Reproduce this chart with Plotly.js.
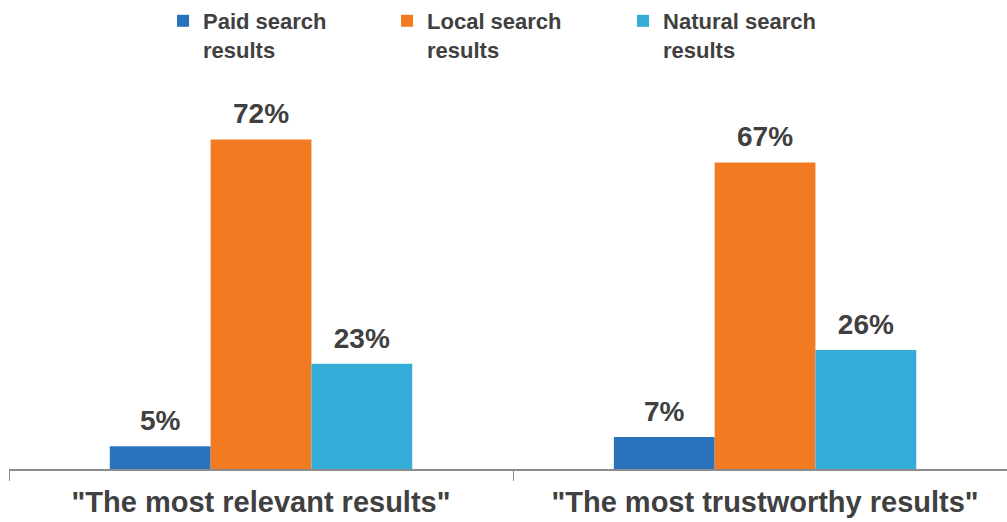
<!DOCTYPE html>
<html>
<head>
<meta charset="utf-8">
<script src="https://cdn.plot.ly/plotly-3.0.1.min.js"></script>
<style>html,body{margin:0;padding:0;background:#fff;}#chart{width:1007px;height:522px;}</style>
</head>
<body>
<div id="chart"></div>
<script>
var categories = ['"The most relevant results"', '"The most trustworthy results"'];
var seriesNames = ['Paid search<br>results', 'Local search<br>results', 'Natural search<br>results'];
var paidValues = [5, 7];
var localValues = [72, 67];
var naturalValues = [23, 26];
var colors = ['#2873BC', '#F27B21', '#34ACD7'];

var textColor = '#404040';
var fam = '"Liberation Sans", Arial, sans-serif';
var valueLists = [paidValues, localValues, naturalValues];
var legendWidths = [179, 191, 180];

var traces = valueLists.map(function (vals, i) {
  return {
    type: 'bar',
    name: seriesNames[i],
    x: categories,
    y: vals,
    offsetgroup: 'g' + i,
    marker: {color: colors[i], line: {width: 0}},
    legendwidth: legendWidths[i],
    hoverinfo: 'skip'
  };
});

var labelTraces = valueLists.map(function (vals, i) {
  return {
    type: 'scatter',
    mode: 'markers+text',
    x: categories,
    y: vals,
    offsetgroup: 'g' + i,
    text: vals.map(function (v) { return v + '%'; }),
    textposition: 'top center',
    marker: {size: 13, color: 'rgba(0,0,0,0)'},
    textfont: {family: fam, size: 28, color: textColor, weight: 'bold'},
    cliponaxis: false,
    showlegend: false,
    hoverinfo: 'skip'
  };
});

var layout = {
  width: 1007,
  height: 522,
  margin: {l: 9, r: 0, t: 103, b: 53, autoexpand: false},
  paper_bgcolor: '#ffffff',
  plot_bgcolor: '#ffffff',
  barmode: 'group',
  bargap: 0.4,
  bargroupgap: 0,
  scattermode: 'group',
  scattergap: 0.4,
  font: {family: fam, color: textColor},
  showlegend: true,
  legend: {
    orientation: 'h',
    xref: 'container', yref: 'container',
    x: 0.1619, y: 1.0,
    xanchor: 'left', yanchor: 'top',
    font: {family: fam, size: 22, color: textColor, weight: 'bold'},
    traceorder: 'normal',
    valign: 'top',
    bgcolor: 'rgba(0,0,0,0)'
  },
  xaxis: {
    type: 'category',
    range: [-0.5, 1.48],
    tickson: 'boundaries',
    ticks: 'outside',
    ticklen: 10,
    tickwidth: 1,
    tickcolor: '#8C8C8C',
    showline: true,
    linecolor: '#8C8C8C',
    linewidth: 2,
    showgrid: false,
    tickangle: 0,
    ticklabelstandoff: 6,
    tickfont: {family: fam, size: 29, color: textColor, weight: 'bold'},
    fixedrange: true
  },
  yaxis: {
    range: [0, 80],
    visible: false,
    showgrid: false,
    zeroline: false,
    fixedrange: true
  }
};

Plotly.newPlot('chart', traces.concat(labelTraces), layout, {displayModeBar: false, staticPlot: true});
</script>
</body>
</html>
